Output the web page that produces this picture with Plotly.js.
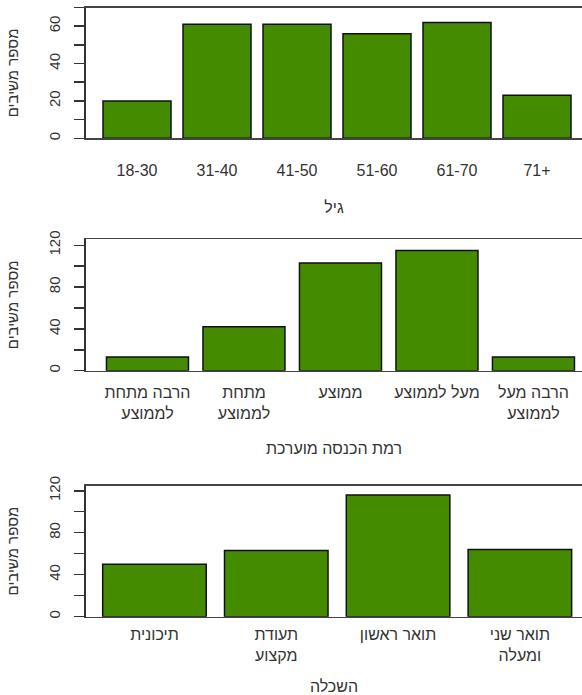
<!DOCTYPE html>
<html>
<head>
<meta charset="utf-8">
<script src="https://cdn.plot.ly/plotly-3.0.1.min.js"></script>
<style>html,body{margin:0;padding:0;background:#fff;}#chart{width:582px;height:695px;}</style>
</head>
<body>
<div id="chart"></div>
<script>
// Panel 1: age
const ageCategories = ["18-30", "31-40", "41-50", "51-60", "61-70", "71+"];
const ageCounts = [20, 61, 61, 56, 62, 23];
const ageTitle = "גיל";

// Panel 2: estimated income level
const incomeCategories = ["הרבה מתחת<br>לממוצע", "מתחת<br>לממוצע", "ממוצע", "מעל לממוצע", "הרבה מעל<br>לממוצע"];
const incomeCounts = [13, 42, 103, 115, 13];
const incomeTitle = "רמת הכנסה מוערכת";

// Panel 3: education
const eduCategories = ["תיכונית", "תעודת<br>מקצוע", "תואר ראשון", "תואר שני<br>ומעלה"];
const eduCounts = [50, 63, 116, 64];
const eduTitle = "השכלה";

const yTitle = "מספר משיבים";

const W = 582, H = 695;
const FONT = "Liberation Sans, Arial, sans-serif";
const TXT = "#333333";
const GREEN = "#458B00";

function barTrace(x, y, axisId) {
  return {
    type: "bar", x: x, y: y,
    xaxis: "x" + axisId, yaxis: "y" + axisId,
    marker: {color: GREEN, line: {color: "#111111", width: 1.5}},
    hoverinfo: "x+y", showlegend: false
  };
}

const traces = [
  barTrace(ageCategories, ageCounts, ""),
  barTrace(incomeCategories, incomeCounts, "2"),
  barTrace(eduCategories, eduCounts, "3")
];

const xDomain = [86 / W, 1];
function yDom(top, bottom) { return [1 - bottom / H, 1 - top / H]; }

function xAxis(title, range, anchor, labelOff, titleStand) {
  return {
    domain: xDomain, anchor: anchor, range: range, type: "category",
    showline: true, linecolor: "#444444", linewidth: 1.5, mirror: true,
    ticks: "", showgrid: false, zeroline: false,
    tickfont: {family: FONT, size: 16, color: TXT},
    ticklabelstandoff: labelOff,
    title: {text: title, font: {family: FONT, size: 16, color: TXT}, standoff: titleStand},
    fixedrange: true
  };
}

function yAxis(range, dtick, minor, domain, anchor) {
  return {
    domain: domain, anchor: anchor, range: range,
    showline: true, linecolor: "#333333", linewidth: 2,
    ticks: "outside", ticklen: 10, tickwidth: 1.5, tickcolor: "#333333",
    dtick: dtick, tick0: 0,
    minor: {dtick: minor, tick0: 0, ticks: "outside", ticklen: 10, tickwidth: 1.5, tickcolor: "#333333", showgrid: false},
    tickangle: -90,
    tickfont: {family: FONT, size: 15, color: TXT},
    ticklabelstandoff: 8,
    showgrid: false, zeroline: false,
    title: {text: yTitle, font: {family: FONT, size: 15, color: TXT}, standoff: 24},
    fixedrange: true
  };
}

const layout = {
  width: W, height: H,
  margin: {l: 0, r: 0, t: 0, b: 0},
  paper_bgcolor: "#ffffff", plot_bgcolor: "#ffffff",
  bargap: 0.15,
  font: {family: FONT, color: TXT},
  xaxis: xAxis(ageTitle, [-0.6375, 5.5625], "y", 17, 24),
  yaxis: yAxis([0, 70], 20, 10, yDom(7.5, 138.3), "x"),
  xaxis2: xAxis(incomeTitle, [-0.637, 4.503], "y2", 7, 21),
  yaxis2: yAxis([0, 126], 40, 20, yDom(239, 370.7), "x2"),
  xaxis3: xAxis(eduTitle, [-0.562, 3.51], "y3", 3, 18),
  yaxis3: yAxis([0, 125], 40, 20, yDom(485.5, 616.7), "x3")
};

Plotly.newPlot("chart", traces, layout, {displayModeBar: false, staticPlot: true});
</script>
</body>
</html>
